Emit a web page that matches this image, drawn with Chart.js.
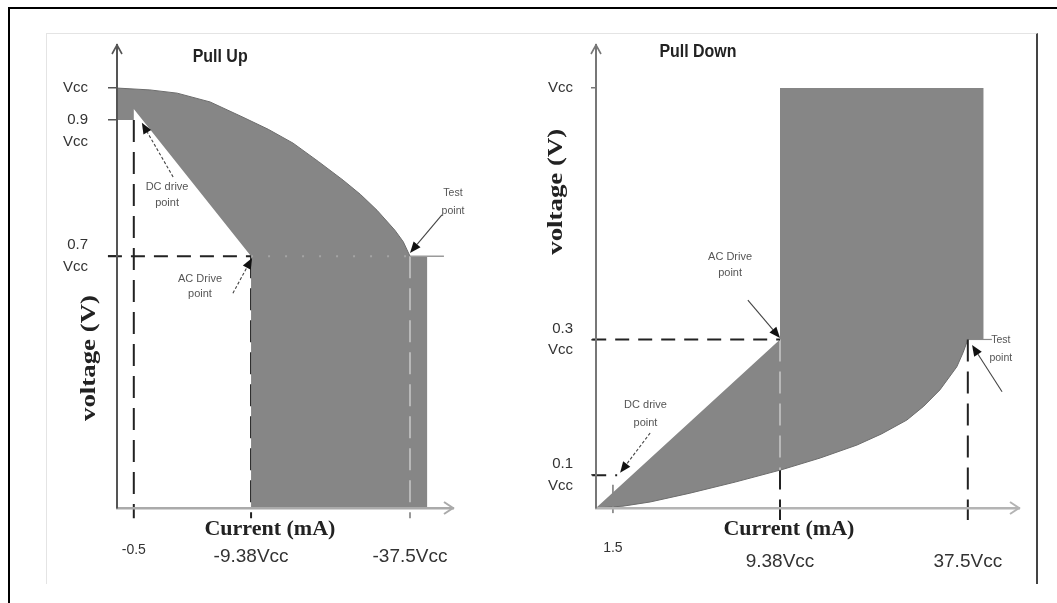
<!DOCTYPE html>
<html>
<head>
<meta charset="utf-8">
<title>Pull Up / Pull Down</title>
<script src="https://cdn.jsdelivr.net/npm/chart.js@4.4.1/dist/chart.umd.min.js"></script>
<style>
  html, body { margin: 0; padding: 0; background: #fff; }
  #page { position: relative; width: 1057px; height: 603px; overflow: hidden; }
  #frame { position: absolute; left: 8px; top: 7px; width: 1060px; height: 610px;
           border-top: 2.5px solid #000; border-left: 2.5px solid #000; }
  #inner { position: absolute; left: 46px; top: 33px; width: 989px; height: 550px;
           border-top: 1px solid #e4e4e4; border-left: 1px solid #e4e4e4; border-right: 2px solid #444; }
  canvas { position: absolute; top: 33px; }
  #chart-up { left: 46px; }
  #chart-down { left: 530px; }
</style>
</head>
<body>
<div id="page">
  <div id="frame"></div>
  <div id="inner"></div>
  <canvas id="chart-up" width="484" height="550"></canvas>
  <canvas id="chart-down" width="506" height="550"></canvas>
</div>
<script>
/* -------------------------------------------------- */
/* Data -- both panels are schematic, each axis runs   */
/* 0..100 from the origin to the arrow tip             */
/* -------------------------------------------------- */

// Pull Up
const upTickX       = [5.0, 39.9, 87.2];
const upTickXLabels = ['-0.5', '-9.38Vcc', '-37.5Vcc'];
const upTickY       = [90.7, 83.8, 54.4];
const upTickYLabels = ['Vcc', ['', '0.9', 'Vcc'], ['0.7', 'Vcc']];
const upCurveX      = [0, 9.8, 17.9, 27.7, 37.5, 45.0, 52.4, 60.0, 67.3, 72.5, 77.4, 82.7, 85.2, 87.2];
const upCurveY      = [90.7, 90.3, 89.6, 87.7, 84.4, 81.8, 78.8, 74.8, 70.8, 67.7, 64.3, 60.0, 57.5, 54.4];
const upRectRight   = 92.3;
const upDiagTop     = 86.2;   // DC-drive diagonal meets the -0.5 line
const upTestLineEnd = 97.3;

// Pull Down
const downTickX       = [4.0, 43.5, 87.9];
const downTickXLabels = ['1.5', '9.38Vcc', '37.5Vcc'];
const downTickY       = [90.7, 36.4, 7.1];
const downTickYLabels = ['Vcc', ['0.3', 'Vcc'], ['0.1', 'Vcc']];
const downCurveX      = [0, 6.4, 12.8, 22.2, 32.9, 44.0, 53.0, 61.7, 67.5, 73.5, 77.5, 81.3, 85.3, 86.8, 87.9];
const downCurveY      = [0, 0.4, 1.3, 3.2, 5.6, 8.3, 10.8, 13.6, 16.0, 19.0, 22.0, 25.5, 30.5, 33.6, 36.4];
const downRectRight   = 91.6;
const downCurveAtAc   = 8.2;
const downTestLineEnd = 93.6;

/* -------------------------------------------------- */
/* Styles */
/* -------------------------------------------------- */

const SANS   = "'Liberation Sans', Arial, sans-serif";
const SERIF  = "'Liberation Serif', 'Times New Roman', serif";
const GRAY_FILL  = '#868686';
const DARK_DASH  = '#222';
const LIGHT_DASH = '#c8c8c8';
const V_DASH = [22, 10];
const H_DASH = [14, 9];

Chart.defaults.font.family = SANS;
Chart.defaults.color = '#333';

/* -------------------------------------------------- */
/* Helpers */
/* -------------------------------------------------- */

function pts(xs, ys) { return xs.map((x, i) => ({ x, y: ys[i] })); }

function seg(xs, ys, style) {
  return Object.assign({
    data: pts(xs, ys),
    showLine: true, pointRadius: 0, fill: false, clip: false, tension: 0,
    borderWidth: 2, borderColor: DARK_DASH,
  }, style);
}

function region(xs, ys) {
  return {
    data: pts(xs, ys),
    showLine: true, pointRadius: 0, tension: 0,
    fill: 'shape', backgroundColor: GRAY_FILL, borderWidth: 0, order: 4,
  };
}

function outline(xs, ys) {
  return {
    data: pts(xs, ys),
    showLine: true, pointRadius: 0, fill: false, tension: 0,
    borderColor: '#6c6c6c', borderWidth: 1, order: 3,
  };
}

const sketchPlugin = {
  id: 'sketch',
  afterDraw(chart, args, opts) {
    const { ctx, chartArea: a } = chart;
    const sx = chart.scales.x, sy = chart.scales.y;
    ctx.save();

    // arrow heads on the two axes
    ctx.lineWidth = 1.6;
    ctx.strokeStyle = opts.yAxisColor;
    ctx.beginPath();
    ctx.moveTo(a.left - 5, a.top + 9); ctx.lineTo(a.left, a.top); ctx.lineTo(a.left + 5, a.top + 9);
    ctx.stroke();
    ctx.lineWidth = 2;
    ctx.strokeStyle = opts.xAxisColor;
    ctx.beginPath();
    ctx.moveTo(a.right - 9, a.bottom - 6); ctx.lineTo(a.right, a.bottom); ctx.lineTo(a.right - 9, a.bottom + 6);
    ctx.stroke();

    // pointer arrows
    opts.arrows.forEach(ar => {
      const x1 = sx.getPixelForValue(ar.from[0]), y1 = sy.getPixelForValue(ar.from[1]);
      const x2 = sx.getPixelForValue(ar.to[0]),   y2 = sy.getPixelForValue(ar.to[1]);
      const ang = Math.atan2(y2 - y1, x2 - x1);
      const head = 11, half = 4.5;
      const bx = x2 - head * Math.cos(ang), by = y2 - head * Math.sin(ang);
      ctx.strokeStyle = '#444';
      ctx.lineWidth = 1.1;
      ctx.setLineDash(ar.dashed ? [3, 2] : []);
      ctx.beginPath(); ctx.moveTo(x1, y1); ctx.lineTo(bx, by); ctx.stroke();
      ctx.setLineDash([]);
      ctx.fillStyle = '#111';
      ctx.beginPath();
      ctx.moveTo(x2, y2);
      ctx.lineTo(bx + half * Math.sin(ang), by - half * Math.cos(ang));
      ctx.lineTo(bx - half * Math.sin(ang), by + half * Math.cos(ang));
      ctx.closePath(); ctx.fill();
    });

    // text notes
    opts.notes.forEach(n => {
      ctx.save();
      ctx.translate(sx.getPixelForValue(n.x), sy.getPixelForValue(n.y));
      if (n.rotate) ctx.rotate(-Math.PI / 2);
      if (n.stretch) ctx.scale(n.stretch, 1);
      ctx.font = n.font;
      ctx.fillStyle = n.color || '#555';
      ctx.textAlign = 'center';
      ctx.textBaseline = 'middle';
      n.lines.forEach((t, i) => ctx.fillText(t, 0, i * (n.gap || 0)));
      ctx.restore();
    });
    ctx.restore();
  },
};

function buildPanel(canvasId, p) {
  const ctx = document.getElementById(canvasId).getContext('2d');
  return new Chart(ctx, {
    type: 'scatter',
    data: { datasets: p.datasets },
    plugins: [sketchPlugin],
    options: {
      responsive: false,
      animation: false,
      events: [],
      layout: { padding: { top: 12, right: p.padRight, bottom: 0, left: 0 } },
      plugins: {
        legend: { display: false },
        tooltip: { enabled: false },
        sketch: p.sketch,
      },
      scales: {
        x: {
          type: 'linear', min: 0, max: 100,
          afterFit: s => { s.height = 75; s.paddingLeft = 0; s.paddingRight = 0; },
          afterBuildTicks: s => { s.ticks = p.tickX.map(v => ({ value: v })); },
          grid: { display: false, drawTicks: false },
          border: { color: p.xAxisColor, width: 2.5, z: 1 },
          ticks: {
            autoSkip: false,
            maxRotation: 0,
            padding: p.xTickPad,
            color: '#333',
            callback: (v, i) => p.tickXLabels[i],
            font: c => c.index === 0
              ? { family: SANS, size: 14, lineHeight: 1.2 }
              : { family: SANS, size: 19, lineHeight: p.xLineHeight },
          },
        },
        y: {
          type: 'linear', min: 0, max: 100,
          afterFit: s => { s.width = p.yWidth; s.paddingTop = 0; s.paddingBottom = 0; },
          afterBuildTicks: s => { s.ticks = p.tickY.map(v => ({ value: v })); },
          grid: { display: true, drawOnChartArea: false, drawTicks: true,
                  tickLength: p.yTickLen, color: p.yAxisColor, lineWidth: 1.5 },
          border: { color: p.yAxisColor, width: 2, z: 1 },
          ticks: {
            autoSkip: false,
            padding: p.yTickPad,
            color: '#333',
            callback: (v, i) => p.tickYLabels[i],
            font: { family: SANS, size: 15, lineHeight: 1.45 },
          },
        },
      },
    },
  });
}

/* -------------------------------------------------- */
/* Pull Up */
/* -------------------------------------------------- */

const UP_DROP = -2.2;     // guide lines run a little below the x axis
const UP_LEFT = -2.7;     // and a little left of the y axis

const upRegionX = [...upCurveX, upRectRight, upRectRight, upTickX[1], upTickX[1], upTickX[0], upTickX[0], 0];
const upRegionY = [...upCurveY, upTickY[2], 0, 0, upTickY[2], upDiagTop, upTickY[1], upTickY[1]];

buildPanel('chart-up', {
  padRight: 77, yWidth: 71, yTickLen: 9, yTickPad: 20,
  xTickPad: 33.6, xLineHeight: 1.62,
  xAxisColor: '#aaa', yAxisColor: '#555',
  tickX: upTickX, tickXLabels: upTickXLabels,
  tickY: upTickY, tickYLabels: upTickYLabels,
  datasets: [
    seg([upTickX[1], upTickX[1]], [upTickY[2], UP_DROP], { borderDash: V_DASH, order: 5 }),
    seg([upTickX[2], upTickX[2]], [upTickY[2], UP_DROP], { borderDash: V_DASH, borderColor: '#999', order: 5 }),
    region(upRegionX, upRegionY),
    outline(upCurveX, upCurveY),
    seg([upTickX[2], upTickX[2]], [upTickY[2], 0], { borderDash: V_DASH, borderColor: LIGHT_DASH, borderWidth: 1.5, order: 2 }),
    seg([upTickX[1], upTickX[2]], [upTickY[2], upTickY[2]], { borderDash: [2, 15], borderColor: '#a4a4a4', borderWidth: 2, order: 2 }),
    seg([upTickX[0], upTickX[0]], [upTickY[1], UP_DROP], { borderDash: V_DASH, order: 1 }),
    seg([UP_LEFT, upTickX[1]], [upTickY[2], upTickY[2]], { borderDash: H_DASH, order: 1 }),
    seg([upTickX[2], upTestLineEnd], [upTickY[2], upTickY[2]], { borderColor: '#9a9a9a', borderWidth: 1.5, order: 1 }),
  ],
  sketch: {
    xAxisColor: '#aaa', yAxisColor: '#555',
    arrows: [
      { from: [16.7, 71.5], to: [7.4, 83.2], dashed: true },
      { from: [34.5, 46.4], to: [40.2, 54.0], dashed: true },
      { from: [96.7, 63.3], to: [87.2, 55.1] },
    ],
    notes: [
      { lines: ['Pull Up'], x: 30.7, y: 97.4, stretch: 0.84, font: `bold 19px ${SANS}`, color: '#222' },
      { lines: ['DC drive', 'point'], x: 14.9, y: 69.3, gap: 16, font: `11px ${SANS}` },
      { lines: ['AC Drive', 'point'], x: 24.7, y: 49.5, gap: 15, font: `11px ${SANS}` },
      { lines: ['Test', 'point'], x: 100, y: 68.0, gap: 18, font: `10.5px ${SANS}` },
      { lines: ['Current (mA)'], x: 45.5, y: -4.5, font: `bold 22px ${SERIF}`, color: '#222' },
      { lines: ['voltage (V)'], x: -8.3, y: 32.4, rotate: true, stretch: 1.22, font: `bold 22px ${SERIF}`, color: '#222' },
    ],
  },
});

/* -------------------------------------------------- */
/* Pull Down */
/* -------------------------------------------------- */

const DOWN_DROP = -2.6;
const DOWN_LEFT = -0.9;

const downRegionX = [0, downTickX[1], downTickX[1], downRectRight, downRectRight].concat(downCurveX.slice().reverse());
const downRegionY = [0, downTickY[1], downTickY[0], downTickY[0], downTickY[1]].concat(downCurveY.slice().reverse());

buildPanel('chart-down', {
  padRight: 17, yWidth: 66, yTickLen: 5, yTickPad: 18,
  xTickPad: 31.6, xLineHeight: 2.36,
  xAxisColor: '#b4b4b4', yAxisColor: '#777',
  tickX: downTickX, tickXLabels: downTickXLabels,
  tickY: downTickY, tickYLabels: downTickYLabels,
  datasets: [
    seg([downTickX[1], downTickX[1]], [downTickY[1], DOWN_DROP], { borderDash: V_DASH, order: 5 }),
    region(downRegionX, downRegionY),
    outline(downCurveX, downCurveY),
    seg([downTickX[1], downTickX[1]], [downTickY[1], downCurveAtAc], { borderDash: V_DASH, borderColor: LIGHT_DASH, borderWidth: 1.5, order: 2 }),
    seg([downTickX[2], downTickX[2]], [downTickY[1], DOWN_DROP], { borderDash: V_DASH, order: 1 }),
    seg([DOWN_LEFT, downTickX[1]], [downTickY[1], downTickY[1]], { borderDash: H_DASH, order: 1 }),
    seg([DOWN_LEFT, downTickX[0] + 1.0], [downTickY[2], downTickY[2]], { borderDash: H_DASH, order: 1 }),
    seg([downTickX[0], downTickX[0]], [downTickY[2] - 2.1, -1.1], { borderColor: '#888', borderWidth: 1, order: 1 }),
    seg([downTickX[2], downTestLineEnd], [downTickY[1], downTickY[1]], { borderColor: '#888', borderWidth: 1.2, order: 1 }),
  ],
  sketch: {
    xAxisColor: '#b4b4b4', yAxisColor: '#777',
    arrows: [
      { from: [35.9, 44.9], to: [43.5, 36.7] },
      { from: [12.8, 16.2], to: [5.7, 7.6], dashed: true },
      { from: [96.0, 25.1], to: [88.9, 35.2] },
    ],
    notes: [
      { lines: ['Pull Down'], x: 24.1, y: 98.5, stretch: 0.84, font: `bold 19px ${SANS}`, color: '#222' },
      { lines: ['AC Drive', 'point'], x: 31.7, y: 54.2, gap: 16, font: `11px ${SANS}` },
      { lines: ['DC drive', 'point'], x: 11.7, y: 22.2, gap: 18, font: `11px ${SANS}` },
      { lines: ['Test', 'point'], x: 95.7, y: 36.3, gap: 18, font: `10.5px ${SANS}` },
      { lines: ['Current (mA)'], x: 45.6, y: -4.5, font: `bold 22px ${SERIF}`, color: '#222' },
      { lines: ['voltage (V)'], x: -9.5, y: 68.3, rotate: true, stretch: 1.22, font: `bold 22px ${SERIF}`, color: '#222' },
    ],
  },
});
</script>
</body>
</html>
